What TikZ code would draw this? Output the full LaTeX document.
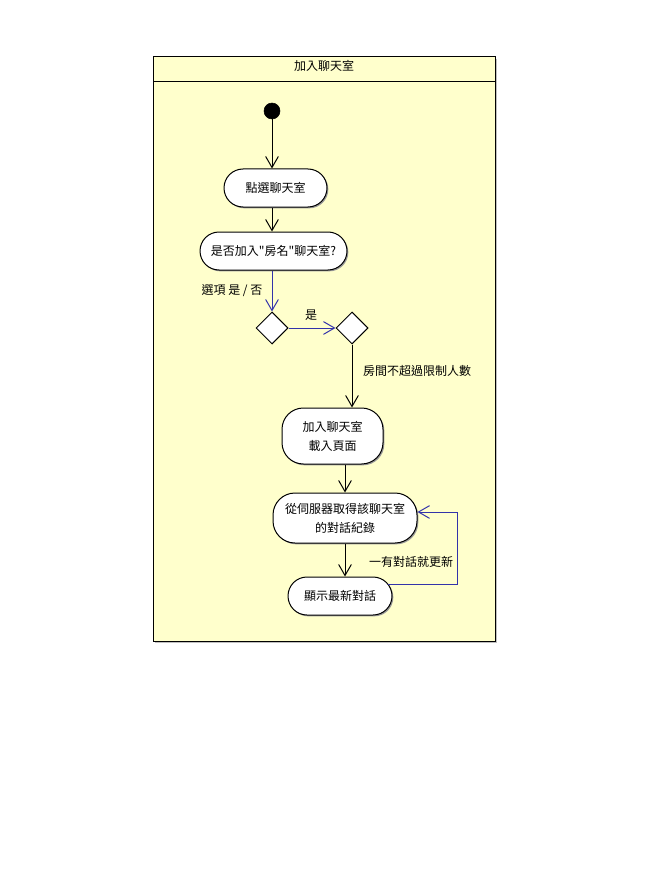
\documentclass[tikz,border=0pt]{standalone}
\usepackage{fontspec}
\setmainfont{Noto Sans CJK TC}[Ligatures=TeXOff]
\usetikzlibrary{arrows.meta,shadows,shapes.geometric}
\definecolor{paleyellow}{RGB}{255,255,204}
\definecolor{flowblue}{RGB}{51,51,170}
\tikzset{
  txt/.style={font=\fontsize{9pt}{14.25pt}\selectfont},
  act/.style={draw=black, fill=white, line width=0.75pt, align=center,
    txt, inner sep=0pt, rounded corners=#1,
    general shadow={fill=black!40, shadow xshift=1pt, shadow yshift=-1pt}},
  decision/.style={diamond, draw=black, fill=white, line width=0.75pt,
    inner sep=0pt, minimum width=24pt, minimum height=24pt},
  flow/.style={draw=black, line width=0.75pt, -{Straight Barb[length=8.25pt,width=9.5pt]}},
  bflow/.style={flow, draw=flowblue},
  lbl/.style={txt, inner sep=0pt},
}
\begin{document}
\begin{tikzpicture}[x=0.75pt,y=-0.75pt]
\useasboundingbox (0,0) rectangle (648,888);
% frame
\fill[black!25] (155,59) rectangle (497,643);
\draw[fill=paleyellow, line width=0.75pt] (153,57) rectangle (495,641);
\draw[line width=0.75pt] (153,82) -- (495,82);
\node[lbl] (title) at (324,66) {加入聊天室};
% nodes
\node[circle, fill=black, draw=black, minimum size=12pt, inner sep=0pt] (start) at (272,111) {};
\node[act=14.25pt, minimum width=77.25pt, minimum height=28.5pt] (n1) at (275.5,188) {點選聊天室};
\node[act=14.25pt, minimum width=110.25pt, minimum height=28.5pt] (n2) at (273.5,251) {是否加入"房名"聊天室?};
\node[decision] (d1) at (272,328) {};
\node[decision] (d2) at (352,328) {};
\node[act=16pt, minimum width=75.75pt, minimum height=42pt] (n3) at (332.5,436) {加入聊天室\\載入頁面};
\node[act=16.5pt, minimum width=108pt, minimum height=37.5pt] (n4) at (345,518) {從伺服器取得該聊天室\\的對話紀錄};
\node[act=14.25pt, minimum width=78pt, minimum height=28.5pt] (n5) at (340,596) {顯示最新對話};
% labels
\node[lbl] (l1) at (232,291) {選項 是 / 否};
\node[lbl] (l2) at (311,315) {是};
\node[lbl] (l3) at (417,371) {房間不超過限制人數};
\node[lbl] (l4) at (411,562) {一有對話就更新};
% connectors
\draw[flow] (start) -- (start |- n1.north);
\draw[flow] (start |- n1.south) -- (start |- n2.north);
\draw[bflow] (start |- n2.south) -- (d1.north);
\draw[bflow] (d1.east) -- (d2.west);
\draw[flow] (d2.south) -- (d2 |- n3.north);
\draw[flow] (n4.north |- n3.south) -- (n4.north);
\draw[flow] (n4.south) -- (n4.south |- n5.north);
\coordinate (lp0) at (388,584);
\coordinate (lp1) at (457,584);
\coordinate (lp2) at (457,512);
\draw[bflow] (lp0) -- (lp1) -- (lp2) -- (n4.east |- lp2);
\end{tikzpicture}
\end{document}
